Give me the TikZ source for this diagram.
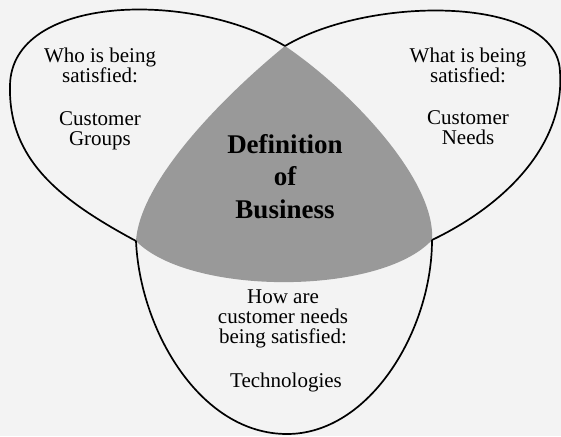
\documentclass[tikz,border=0pt]{standalone}
\usepackage{fontspec}
\setmainfont{Liberation Serif}
\usepackage{tikz}
\usetikzlibrary{positioning}
\definecolor{paper}{HTML}{F3F3F3}
\definecolor{coregray}{HTML}{999999}

\begin{document}
\begin{tikzpicture}[x=1pt, y=-1pt,
	lobe/.style={line width=1.7pt, line join=round},
	asktext/.style={align=center, inner sep=0pt, font=\fontsize{21}{20}\selectfont},
	coretext/.style={align=center, inner sep=0pt, font=\fontsize{27}{32.5}\selectfont\bfseries}]
	\fill[paper] (0,0) rectangle (561,436); 
	\useasboundingbox (0,0) rectangle (561,436); 
	\coordinate (cuspT) at (285,46); 
	\coordinate (cuspL) at (136,241); 
	\coordinate (cuspR) at (432,240); 
	\fill[coregray] (cuspT) .. controls (225,95) and (140,180) .. (cuspL) .. controls (190,296) and (380,296) .. (cuspR) .. controls (436,180) and (350,90) .. (cuspT) -- cycle; 
	\draw[lobe] (cuspT) .. controls (190,-10) and (12,-5) .. (10,85) .. controls (8,160) and (60,200) .. (cuspL); 
	\draw[lobe] (cuspL) .. controls (140,330) and (200,434) .. (287,434) .. controls (370,434) and (432,330) .. (cuspR); 
	\draw[lobe] (cuspR) .. controls (505,205) and (565,145) .. (560,72) .. controls (558,-5) and (370,-5) .. (cuspT); 
	\node[asktext] (whoask) at (100,65) {Who is being\\satisfied:}; 
	\node[asktext] (whoans) at (100,130.3) {Customer\\Groups}; 
	\node[asktext] (whatask) at (468,65.5) {What is being\\satisfied:}; 
	\node[asktext] (whatans) at (468,128) {Customer\\Needs}; 
	\node[asktext] (howask) at (283,318.4) {How are\\customer needs\\being satisfied:}; 
	\node[asktext] (howans) at (286,382.2) {Technologies}; 
	\node[coretext] (business) at (285,176.2) {Definition\\of\\Business}; 
\end{tikzpicture}
\end{document}
